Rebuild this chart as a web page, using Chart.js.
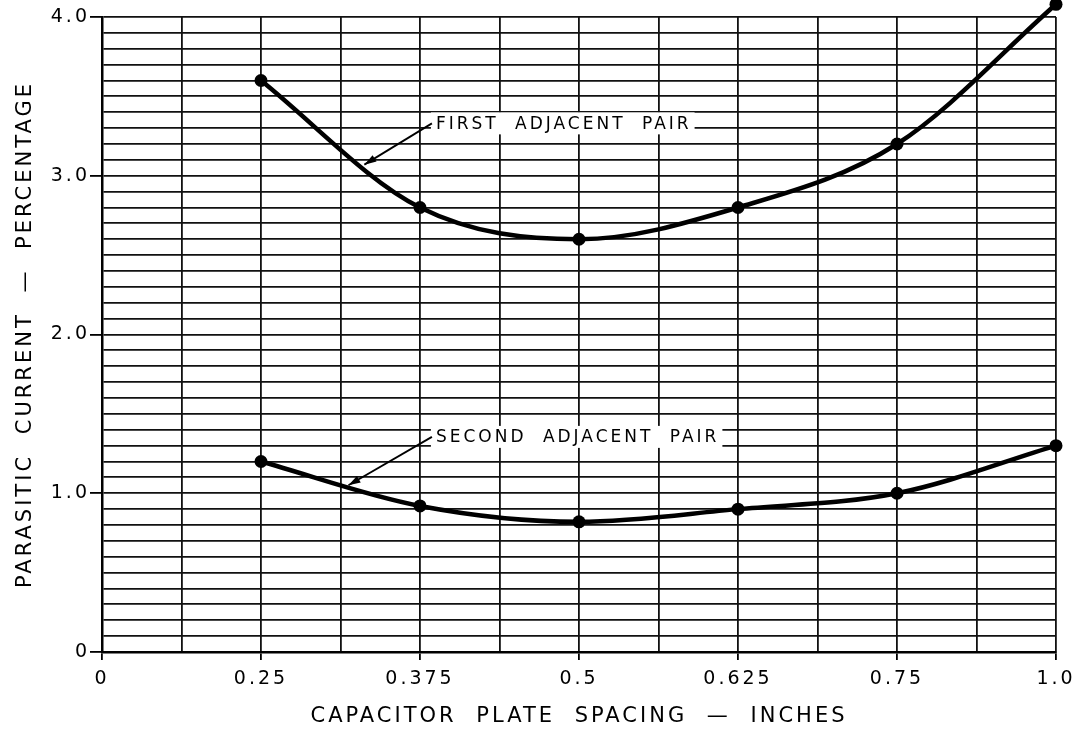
<!DOCTYPE html>
<html><head><meta charset="utf-8">
<script src="https://cdn.jsdelivr.net/npm/chart.js@4/dist/chart.umd.min.js"></script>
<style>html,body{margin:0;padding:0;background:#fff;overflow:hidden}</style>
</head><body>
<canvas id="c" width="1089" height="733"></canvas>
<script>
// ---- data ----
const xLabels = ['0', '', '0.25', '', '0.375', '', '0.5', '', '0.625', '', '0.75', '', '1.0'];
const spacing = ['0.25', '0.375', '0.5', '0.625', '0.75', '1.0'];
const firstPair = [3.6, 2.8, 2.6, 2.8, 3.2, 4.08];
const secondPair = [1.2, 0.92, 0.82, 0.9, 1.0, 1.3];
const yTickLabels = ['0', '1.0', '2.0', '3.0', '4.0'];
const xTitle = 'CAPACITOR PLATE SPACING — INCHES';
const yTitle = 'PARASITIC CURRENT — PERCENTAGE';
const noteTexts = ['FIRST ADJACENT PAIR', 'SECOND ADJACENT PAIR'];
const noteAnchors = [[4.2, 3.33], [4.2, 1.355]];   // [category index, value]
const noteTips = [[3.3, 3.07], [3.1, 1.05]];

const FONT = '"DejaVu Sans", "Liberation Sans", sans-serif';
function setSpacing(ctx) { ctx.letterSpacing = '3px'; ctx.wordSpacing = '10px'; }

const spacingPlugin = {
  id: 'spacing',
  beforeLayout(chart) { setSpacing(chart.ctx); },
  beforeDraw(chart) { setSpacing(chart.ctx); }
};

// points lying slightly above the frame (e.g. 4.08) are drawn too
const outsidePointsPlugin = {
  id: 'outsidePoints',
  afterDatasetsDraw(chart) {
    const full = { left: 0, top: 0, right: chart.width, bottom: chart.height };
    const ca = chart.chartArea;
    chart.data.datasets.forEach((d, i) => {
      chart.getDatasetMeta(i).data.forEach(pt => {
        if (pt.y < ca.top || pt.y > ca.bottom) pt.draw(chart.ctx, full);
      });
    });
  }
};

const notesPlugin = {
  id: 'notes',
  beforeDatasetsDraw(chart) {
    const { ctx, scales: { x, y } } = chart;
    ctx.save();
    ctx.font = '17px ' + FONT;
    ctx.letterSpacing = '3px'; ctx.wordSpacing = '8px';
    noteTexts.forEach((t, i) => {
      const px = x.getPixelForValue(noteAnchors[i][0]);
      const py = y.getPixelForValue(noteAnchors[i][1]);
      const w = ctx.measureText(t).width;
      ctx.fillStyle = '#fff';
      ctx.fillRect(px - 5, py - 11, w + 8, 22);
      ctx.fillStyle = '#000';
      ctx.textBaseline = 'middle';
      ctx.textAlign = 'left';
      ctx.fillText(t, px, py + 1);
      const tx = x.getPixelForValue(noteTips[i][0]);
      const ty = y.getPixelForValue(noteTips[i][1]);
      const sx = px - 4, sy = py;
      ctx.strokeStyle = '#000';
      ctx.lineWidth = 1.8;
      ctx.beginPath(); ctx.moveTo(sx, sy); ctx.lineTo(tx, ty); ctx.stroke();
      const ang = Math.atan2(ty - sy, tx - sx);
      const L = 12, W = 3.8;
      ctx.beginPath();
      ctx.moveTo(tx, ty);
      ctx.lineTo(tx - L * Math.cos(ang) + W * Math.sin(ang), ty - L * Math.sin(ang) - W * Math.cos(ang));
      ctx.lineTo(tx - L * Math.cos(ang) - W * Math.sin(ang), ty - L * Math.sin(ang) + W * Math.cos(ang));
      ctx.closePath(); ctx.fillStyle = '#000'; ctx.fill();
    });
    ctx.restore();
  }
};

const isMajor = v => Math.abs(v - Math.round(v)) < 1e-6;

const ds = (vals) => ({
  data: spacing.map((s, i) => ({ x: s, y: vals[i] })),
  borderColor: '#000',
  borderWidth: 4.5,
  pointRadius: 6.5,
  pointHoverRadius: 6.5,
  pointBackgroundColor: '#000',
  pointBorderWidth: 0,
  cubicInterpolationMode: 'monotone',
  capBezierPoints: false,
  clip: false,
  fill: false
});

new Chart(document.getElementById('c'), {
  type: 'line',
  data: { labels: xLabels, datasets: [ds(firstPair), ds(secondPair)] },
  plugins: [spacingPlugin, notesPlugin, outsidePointsPlugin],
  options: {
    responsive: false,
    animation: false,
    devicePixelRatio: 1,
    events: [],
    layout: { padding: { top: 17, right: 33, left: 0, bottom: 0 } },
    plugins: { legend: { display: false }, tooltip: { enabled: false } },
    scales: {
      x: {
        type: 'category',
        offset: false,
        afterFit(s) { s.height = 81; },
        grid: {
          color: '#111', lineWidth: 1.8, tickLength: 8,
          tickColor: c => (xLabels[c.index] ? '#000' : 'rgba(0,0,0,0)'),
          tickWidth: 1.8
        },
        border: { color: '#000', width: 2.5 },
        ticks: {
          autoSkip: false, maxRotation: 0, padding: 8,
          color: '#000', font: { family: FONT, size: 19 },
          callback: (v, i) => xLabels[i]
        },
        title: {
          display: true, text: xTitle, color: '#000',
          font: { family: FONT, size: 21 }, padding: { top: 0, bottom: 4 }
        }
      },
      y: {
        min: 0, max: 4,
        afterFit(s) { s.width = 102; },
        grid: {
          color: '#111', lineWidth: 1.8, tickLength: 12,
          tickColor: c => (c.tick && isMajor(c.tick.value) ? '#000' : 'rgba(0,0,0,0)'),
          tickWidth: 1.8
        },
        border: { color: '#000', width: 2.5 },
        ticks: {
          stepSize: 0.1, autoSkip: false, padding: 0,
          color: '#000', font: { family: FONT, size: 19 },
          callback: v => (isMajor(v) ? yTickLabels[Math.round(v)] : '')
        },
        title: {
          display: true, text: yTitle, color: '#000',
          font: { family: FONT, size: 21 }, padding: { top: 13, bottom: 0 }
        }
      }
    }
  }
});
</script>
</body></html>
